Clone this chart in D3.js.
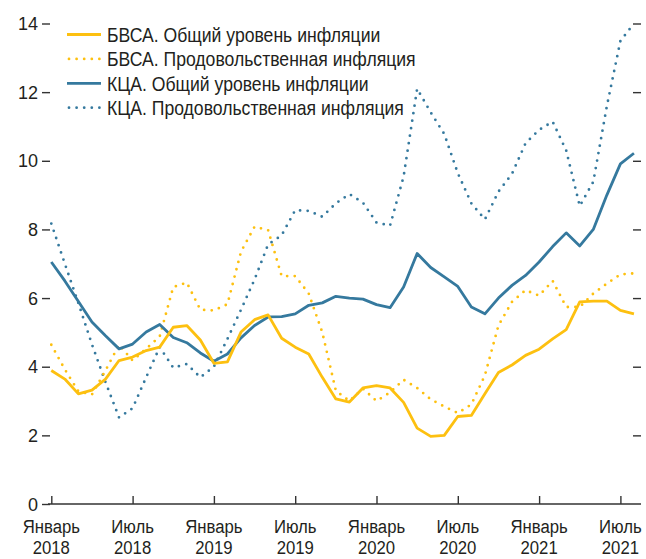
<!DOCTYPE html>
<html>
<head>
<meta charset="utf-8">
<script src="https://cdn.jsdelivr.net/npm/d3@7"></script>
<style>
  body { margin: 0; background: #fff; }
  svg text { font-family: "Liberation Sans Narrow", "Arial Narrow", "Liberation Sans", Arial, sans-serif; fill: #231f20; }
</style>
</head>
<body>
<svg id="chart" width="646" height="559"></svg>
<script>
// months from Jan 2018 (0) to Aug 2021 (43)
var tickMonths = [0, 6, 12, 18, 24, 30, 36, 42]
var tickTop = ["Январь", "Июль", "Январь", "Июль", "Январь", "Июль", "Январь", "Июль"]
var tickBottom = ["2018", "2018", "2019", "2019", "2020", "2020", "2021", "2021"]
var yTicks = [0, 2, 4, 6, 8, 10, 12, 14]

var seriesNames = [
  "БВСА. Общий уровень инфляции",
  "БВСА. Продовольственная инфляция",
  "КЦА. Общий уровень инфляции",
  "КЦА. Продовольственная инфляция"
]

var bvsaTotal = [3.89, 3.64, 3.21, 3.32, 3.64, 4.18, 4.28, 4.47, 4.57, 5.15, 5.20, 4.78,
  4.10, 4.14, 5.01, 5.37, 5.51, 4.83, 4.57, 4.37, 3.69, 3.06, 2.97, 3.38,
  3.45, 3.38, 2.96, 2.21, 1.97, 2.00, 2.55, 2.58, 3.21, 3.83, 4.05, 4.33,
  4.51, 4.81, 5.08, 5.89, 5.91, 5.91, 5.64, 5.54]

var bvsaFood = [4.64, 3.92, 3.28, 3.19, 3.89, 4.64, 4.18, 4.52, 4.88, 6.32, 6.45, 5.66,
  5.64, 5.82, 7.35, 8.08, 7.98, 6.64, 6.64, 6.13, 5.00, 3.30, 3.00, 3.36,
  3.00, 3.25, 3.62, 3.38, 3.05, 2.84, 2.65, 2.90, 3.75, 5.20, 5.89, 6.23,
  6.07, 6.50, 5.74, 5.74, 6.13, 6.42, 6.69, 6.72]

var kcaTotal = [7.05, 6.50, 5.90, 5.30, 4.90, 4.52, 4.66, 5.01, 5.23, 4.85, 4.70, 4.40,
  4.16, 4.37, 4.84, 5.20, 5.45, 5.46, 5.54, 5.79, 5.86, 6.05, 6.00, 5.97,
  5.81, 5.72, 6.32, 7.30, 6.89, 6.62, 6.34, 5.74, 5.54, 6.00, 6.37, 6.66,
  7.05, 7.50, 7.90, 7.52, 8.00, 9.00, 9.91, 10.22]

var kcaFood = [8.17, 7.00, 5.85, 4.65, 3.55, 2.52, 2.79, 3.69, 4.57, 3.97, 4.08, 3.69,
  4.00, 4.81, 5.66, 6.54, 7.56, 7.83, 8.56, 8.54, 8.37, 8.76, 9.03, 8.78,
  8.20, 8.11, 9.54, 12.10, 11.41, 10.78, 9.64, 8.76, 8.29, 9.10, 9.62, 10.51,
  10.90, 11.14, 10.30, 8.68, 9.39, 11.59, 13.49, 14.00]

var yellow = "#fdc010"
var blue = "#35799e"
var squeeze = 0.88   // condensed look of the original font

var svg = d3.select("#chart")

var x = d3.scaleLinear().domain([0, 42]).range([51.3, 620.4])
var y = d3.scaleLinear().domain([0, 14]).range([504, 23.5])

// y axis left: labels and short ticks
var yAxisL = svg.append("g").attr("transform", "translate(50,0)")
  .call(d3.axisLeft(y).tickValues(yTicks).tickSize(8).tickPadding(4))
yAxisL.select(".domain").remove()
yAxisL.selectAll("line").attr("stroke", "#333").attr("stroke-width", 1.4)
yAxisL.selectAll("text").style("font-size", "18px").attr("fill", "#231f20").attr("dy", "0.34em")

// right ticks
var yAxisR = svg.append("g").attr("transform", "translate(633,0)")
  .call(d3.axisRight(y).tickValues(yTicks.slice(1)).tickSize(8).tickFormat(""))
yAxisR.select(".domain").remove()
yAxisR.selectAll("line").attr("stroke", "#333").attr("stroke-width", 1.4)

// x axis line
svg.append("line")
  .attr("x1", 48).attr("x2", 641)
  .attr("y1", y(0)).attr("y2", y(0))
  .attr("stroke", "#333").attr("stroke-width", 1.4)

var xAxis = svg.append("g").attr("transform", "translate(0," + y(0) + ")")
  .call(d3.axisBottom(x).tickValues(tickMonths).tickSizeInner(-8).tickSizeOuter(0).tickFormat(""))
xAxis.select(".domain").remove()
xAxis.selectAll("line").attr("stroke", "#333").attr("stroke-width", 1.4)

var xLabels = svg.append("g").selectAll("g")
  .data(tickMonths)
  .enter()
  .append("g")
  .attr("transform", function(d){ return "translate(" + x(d) + ",0) scale(" + squeeze + ",1)" })
var xText = xLabels.append("text")
  .attr("text-anchor", "middle")
  .style("font-size", "19px")
xText.append("tspan")
  .attr("x", 0)
  .attr("y", 533)
  .text(function(d,i){ return tickTop[i] })
xText.append("tspan")
  .attr("x", 0)
  .attr("y", 554.5)
  .text(function(d,i){ return tickBottom[i] })

var line = d3.line()
  .x(function(d,i){ return x(i) })
  .y(function(d){ return y(d) })

var series = [
  {name: seriesNames[0], values: bvsaTotal, color: yellow, dotted: false},
  {name: seriesNames[1], values: bvsaFood, color: yellow, dotted: true},
  {name: seriesNames[2], values: kcaTotal, color: blue, dotted: false},
  {name: seriesNames[3], values: kcaFood, color: blue, dotted: true}
]

// draw order: dotted below solid
var drawOrder = [series[3], series[1], series[2], series[0]]
svg.append("g").selectAll("path")
  .data(drawOrder)
  .enter()
  .append("path")
  .attr("d", function(d){ return line(d.values) })
  .attr("fill", "none")
  .attr("stroke", function(d){ return d.color })
  .attr("stroke-width", 2.8)
  .attr("stroke-linecap", function(d){ return d.dotted ? "round" : "butt" })
  .attr("stroke-linejoin", "round")
  .attr("stroke-dasharray", function(d){ return d.dotted ? "0,7.6" : null })

// legend
var legend = svg.append("g").selectAll("g")
  .data(series)
  .enter()
  .append("g")
  .attr("transform", function(d,i){ return "translate(0," + (34.5 + i*24.4) + ")" })

legend.append("line")
  .attr("x1", function(d){ return d.dotted ? 69 : 67 })
  .attr("x2", 101)
  .attr("y1", 0).attr("y2", 0)
  .attr("stroke", function(d){ return d.color })
  .attr("stroke-width", 2.8)
  .attr("stroke-linecap", function(d){ return d.dotted ? "round" : "butt" })
  .attr("stroke-dasharray", function(d){ return d.dotted ? "0,7.6" : null })

legend.append("g")
  .attr("transform", "translate(107,0) scale(" + squeeze + ",1)")
  .append("text")
  .attr("x", 0)
  .attr("y", 0)
  .attr("dy", "0.36em")
  .style("font-size", "20px")
  .text(function(d){ return d.name })
</script>
</body>
</html>
